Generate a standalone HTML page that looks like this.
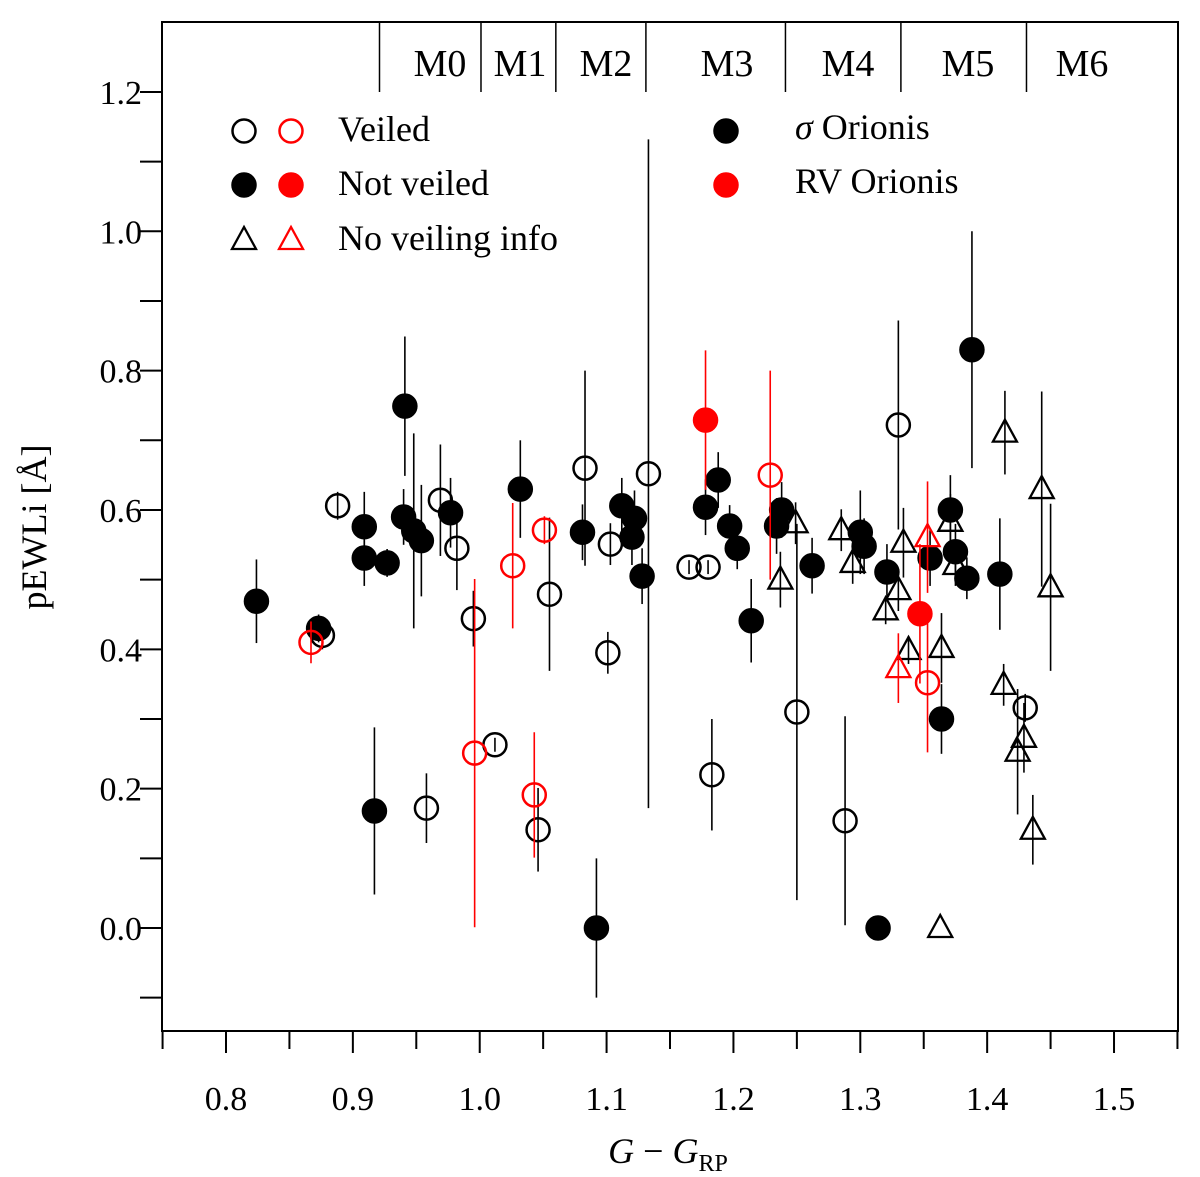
<!DOCTYPE html>
<html><head><meta charset="utf-8">
<style>
html,body{margin:0;padding:0;background:#fff;}
svg{display:block;font-family:"Liberation Serif",serif;}
</style></head>
<body>
<svg id="chart" width="1200" height="1177" viewBox="0 0 1200 1177" xmlns="http://www.w3.org/2000/svg">
<g id="axes"></g>
<g id="marks"></g>
<g id="legend"></g>
</svg>
<script>
// Data arrays: x (G-G_RP), y (pEWLi), err (symmetric error)
const filledBlackX=[0.824,0.873,0.917,0.909,0.909,0.927,0.941,0.940,0.948,0.954,0.977,1.032,1.081,1.092,1.112,1.122,1.120,1.128,1.178,1.188,1.197,1.203,1.214,1.234,1.238,1.262,1.300,1.303,1.321,1.314,1.355,1.371,1.375,1.384,1.364,1.388,1.410];
const filledBlackY=[0.469,0.43,0.168,0.576,0.531,0.524,0.749,0.59,0.57,0.556,0.596,0.63,0.568,0.0,0.606,0.588,0.561,0.505,0.604,0.643,0.577,0.545,0.441,0.577,0.6,0.52,0.568,0.548,0.511,0.0,0.531,0.6,0.54,0.502,0.3,0.83,0.508];
const filledBlackE=[0.06,0.02,0.12,0.05,0.04,0.02,0.1,0.04,0.14,0.08,0.05,0.07,0.04,0.1,0.04,0.04,0.04,0.04,0.04,0.04,0.03,0.03,0.06,0.04,0.04,0.04,0.06,0.04,0.04,0,0.04,0.05,0.04,0.03,0.05,0.17,0.08];
const openBlackX=[0.888,0.876,0.969,0.982,0.995,0.958,1.012,1.055,1.046,1.083,1.103,1.101,1.133,1.165,1.180,1.183,1.250,1.288,1.330,1.430];
const openBlackY=[0.606,0.42,0.614,0.545,0.444,0.172,0.263,0.479,0.141,0.66,0.551,0.395,0.652,0.518,0.518,0.22,0.31,0.154,0.722,0.316];
const openBlackE=[0.02,0.02,0.08,0.06,0.04,0.05,0.01,0.11,0.06,0.14,0.03,0.03,0.48,0.01,0.01,0.08,0.27,0.15,0.15,0.02];
const openRedX=[0.867,1.026,1.051,0.996,1.043,1.229,1.353];
const openRedY=[0.41,0.52,0.571,0.251,0.191,0.65,0.352];
const openRedE=[0.03,0.09,0.02,0.25,0.09,0.15,0.1];
const filledRedX=[1.178,1.347];
const filledRedY=[0.729,0.451];
const filledRedE=[0.1,0.1];
const triBlackX=[1.237,1.249,1.285,1.294,1.320,1.330,1.334,1.338,1.363,1.364,1.371,1.375,1.414,1.413,1.424,1.429,1.436,1.443,1.450];
const triBlackY=[0.5,0.581,0.571,0.524,0.456,0.485,0.553,0.399,0.0,0.402,0.583,0.521,0.711,0.349,0.253,0.273,0.141,0.63,0.489];
const triBlackE=[0.04,0.03,0.03,0.03,0.02,0.03,0.05,0.02,0,0.05,0.04,0.03,0.06,0.03,0.09,0.05,0.05,0.14,0.12];
const triRedX=[1.330,1.353];
const triRedY=[0.373,0.561];
const triRedE=[0.05,0.08];
const xTicks=[0.8,0.9,1.0,1.1,1.2,1.3,1.4,1.5];
const xTickLabels=["0.8","0.9","1.0","1.1","1.2","1.3","1.4","1.5"];
const yTicks=[0.0,0.2,0.4,0.6,0.8,1.0,1.2];
const yTickLabels=["0.0","0.2","0.4","0.6","0.8","1.0","1.2"];
const spectralTypes=["M0","M1","M2","M3","M4","M5","M6"];
const spectralBounds=[0.921,1.001,1.060,1.131,1.241,1.332,1.431,1.55];

const L=162,R=1178,T=22,B=1031;
const X=v=>226+(v-0.8)*1268.6;
const Y=v=>928-v*696.7;
const NS="http://www.w3.org/2000/svg";
function mk(tag,attrs,parent){const e=document.createElementNS(NS,tag);for(const k in attrs)e.setAttribute(k,attrs[k]);parent.appendChild(e);return e;}
const axes=document.getElementById('axes'),marks=document.getElementById('marks'),legend=document.getElementById('legend');

let frame=mk('rect',{x:L,y:T,width:R-L,height:B-T,fill:'none',stroke:'#000','stroke-width':2},axes);


for(let v=0.75;v<=1.551;v+=0.05){
  const px=X(v);if(px<L||px>R)continue;
  const major=Math.abs(v*10-Math.round(v*10))<1e-6;
  let t=mk('line',{x1:px,x2:px,y1:B,y2:B+(major?22:18),stroke:'#000','stroke-width':2},axes);
  
  
}
xTicks.forEach((v,i)=>{
  let t=mk('text',{x:X(v),y:1110,'text-anchor':'middle','font-size':34},axes);t.textContent=xTickLabels[i];
  
  
});
for(let k=-1;k<=12;k++){
  const v=k/10,py=Y(v);
  let t=mk('line',{x1:L-22,x2:L,y1:py,y2:py,stroke:'#000','stroke-width':2},axes);
  
  
}
yTicks.forEach((v,i)=>{
  let t=mk('text',{x:142,y:Y(v)+12,'text-anchor':'end','font-size':34},axes);t.textContent=yTickLabels[i];
  
  
});
let xt=mk('text',{x:668,y:1163,'text-anchor':'middle','font-size':36},axes);
xt.innerHTML='<tspan font-style="italic">G</tspan> − <tspan font-style="italic">G</tspan><tspan font-size="24" dy="8">RP</tspan>';


let yt=mk('text',{x:0,y:0,'text-anchor':'middle','font-size':36,transform:'translate(46,527) rotate(-90)'},axes);
yt.textContent='pEWLi [Å]';


spectralBounds.slice(0,-1).forEach(b=>{
  let l=mk('line',{x1:X(b),x2:X(b),y1:T,y2:92,stroke:'#000','stroke-width':1.5},axes);
  
  
});
const stPos=[440,520,606,727,848,968,1082];
spectralTypes.forEach((s,i)=>{
  let t=mk('text',{x:stPos[i],y:76,'text-anchor':'middle','font-size':38},axes);t.textContent=s;
  
  
});

function err(x,y,e,col){if(!e)return;
  let l=mk('line',{x1:X(x),x2:X(x),y1:Y(y-e),y2:Y(y+e),stroke:col,'stroke-width':1.6},marks);
  
  
}
function circle(cx,cy,fill,col,par){return mk('circle',{cx:cx,cy:cy,r:11.5,fill:fill,stroke:col,'stroke-width':2.5},par);}
function tri(cx,cy,col,par){return mk('polygon',{points:`${cx},${cy-13} ${cx-12},${cy+9} ${cx+12},${cy+9}`,fill:'none',stroke:col,'stroke-width':2.3},par);}
function series(xs,ys,es,col,kind,name){
  xs.forEach((x,i)=>err(x,ys[i],es[i],col));
  xs.forEach((x,i)=>{
    let m;
    if(kind==='filled')m=circle(X(x),Y(ys[i]),col,col,marks);
    else if(kind==='open')m=circle(X(x),Y(ys[i]),'none',col,marks);
    else m=tri(X(x),Y(ys[i]),col,marks);
    
    
  });
}
series(openBlackX,openBlackY,openBlackE,'#000','open','veiled-point');
series(triBlackX,triBlackY,triBlackE,'#000','tri','no-veiling-point');
series(filledBlackX,filledBlackY,filledBlackE,'#000','filled','not-veiled-point');
series(openRedX,openRedY,openRedE,'#f00','open','veiled-rv-point');
series(triRedX,triRedY,triRedE,'#f00','tri','no-veiling-rv-point');
series(filledRedX,filledRedY,filledRedE,'#f00','filled','not-veiled-rv-point');

const lg=[[131,'open','Veiled'],[185,'filled','Not veiled'],[240,'tri','No veiling info']];
lg.forEach(([y,k,txt])=>{
  [['#000',244],['#f00',291]].forEach(([c,x])=>{
    let m=k==='tri'?tri(x,y,c,legend):circle(x,y,k==='filled'?c:'none',c,legend);
    
    
  });
  let t=mk('text',{x:338,y:y+10,'font-size':36},legend);t.textContent=txt;
  
  
});
[[131,'#000','<tspan font-style="italic">σ</tspan> Orionis'],[185,'#f00','RV Orionis']].forEach(([y,c,txt])=>{
  let m=circle(726,y,c,c,legend);
  
  
  let t=mk('text',{x:795,y:y+8,'font-size':36},legend);t.innerHTML=txt;
  
  
});
</script>
</body></html>
